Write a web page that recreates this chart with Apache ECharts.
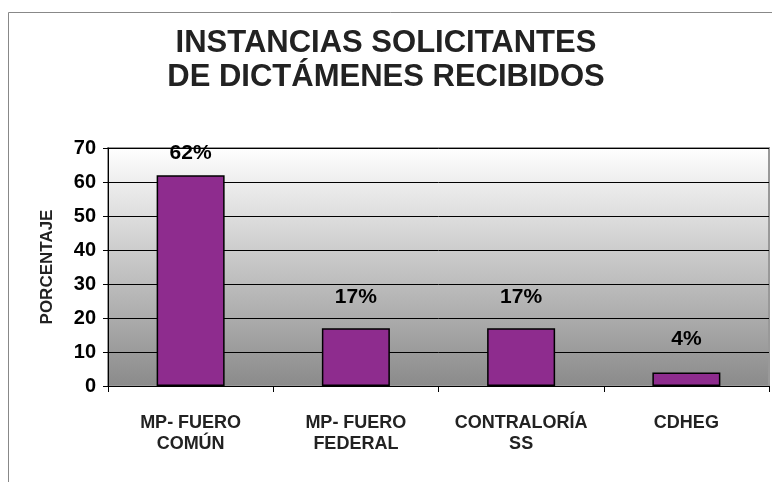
<!DOCTYPE html>
<html>
<head>
<meta charset="utf-8">
<script src="https://cdn.jsdelivr.net/npm/echarts@6/dist/echarts.min.js"></script>
<style>
html,body{margin:0;padding:0;background:#fff;}
#chart{width:772px;height:482px;}
</style>
</head>
<body>
<div id="chart"></div>
<script>
const titleLines = ['INSTANCIAS SOLICITANTES', 'DE DICTÁMENES RECIBIDOS'];
const categories = ['MP- FUERO\nCOMÚN', 'MP- FUERO\nFEDERAL', 'CONTRALORÍA\nSS', 'CDHEG'];
const values = [62, 17, 17, 4];
const valueLabels = ['62%', '17%', '17%', '4%'];
const yTicks = [0, 10, 20, 30, 40, 50, 60, 70];
const yAxisName = 'PORCENTAJE';

const FONT = '"Liberation Sans", Arial, sans-serif';
const chart = echarts.init(document.getElementById('chart'), null, {renderer: 'canvas'});

const barData = values.map((v, i) => ({
  value: v,
  label: { distance: i === 0 ? 11 : (v < 10 ? 23 : 20) }
}));

chart.setOption({
  animation: false,
  backgroundColor: '#ffffff',
  title: {
    text: titleLines.join('\n'),
    left: 'center',
    top: 21,
    textStyle: { fontFamily: FONT, fontWeight: 'bold', fontSize: 31, lineHeight: 34, color: '#222' }
  },
  graphic: [
    { type: 'line', shape: { x1: 8.5, y1: 12.5, x2: 772, y2: 12.5 }, style: { stroke: '#888', lineWidth: 1 } },
    { type: 'line', shape: { x1: 8.5, y1: 12.5, x2: 8.5, y2: 482 }, style: { stroke: '#888', lineWidth: 1 } }
  ],
  grid: {
    left: 108, right: 3, top: 148, bottom: 96,
    show: true,
    borderColor: '#999',
    borderWidth: 2,
    backgroundColor: new echarts.graphic.LinearGradient(0, 0, 0, 1, [
      { offset: 0, color: '#ffffff' },
      { offset: 1, color: '#8a8a8a' }
    ])
  },
  xAxis: {
    type: 'category',
    data: categories,
    axisLine: { show: true, lineStyle: { color: '#000', width: 1 } },
    axisTick: { show: true, alignWithLabel: false, length: 6, lineStyle: { color: '#000' } },
    axisLabel: { interval: 0, hideOverlap: false, margin: 27, fontFamily: FONT, fontWeight: 'bold', fontSize: 18, lineHeight: 21, color: '#222' }
  },
  yAxis: {
    type: 'value',
    min: 0, max: 70, interval: 10,
    name: yAxisName,
    nameLocation: 'middle',
    nameRotate: 90,
    nameGap: 52,
    nameTextStyle: { fontFamily: FONT, fontWeight: 'bold', fontSize: 17, color: '#222' },
    axisLine: { show: true, lineStyle: { color: '#000', width: 1 } },
    axisTick: { show: true, length: 5, lineStyle: { color: '#000' } },
    splitLine: { show: true, lineStyle: { color: '#000', width: 1 } },
    axisLabel: {
      margin: 12, fontFamily: FONT, fontWeight: 'bold', fontSize: 20, color: '#000',
      formatter: v => yTicks.includes(v) ? String(v) : ''
    }
  },
  series: [{
    type: 'bar',
    data: barData,
    barWidth: 68,
    itemStyle: { color: '#8E2C8E', borderColor: '#000', borderWidth: 1.5 },
    label: {
      show: true, position: 'top',
      fontFamily: FONT, fontWeight: 'bold', fontSize: 21, color: '#000',
      formatter: p => valueLabels[p.dataIndex]
    }
  }]
});
</script>
</body>
</html>
